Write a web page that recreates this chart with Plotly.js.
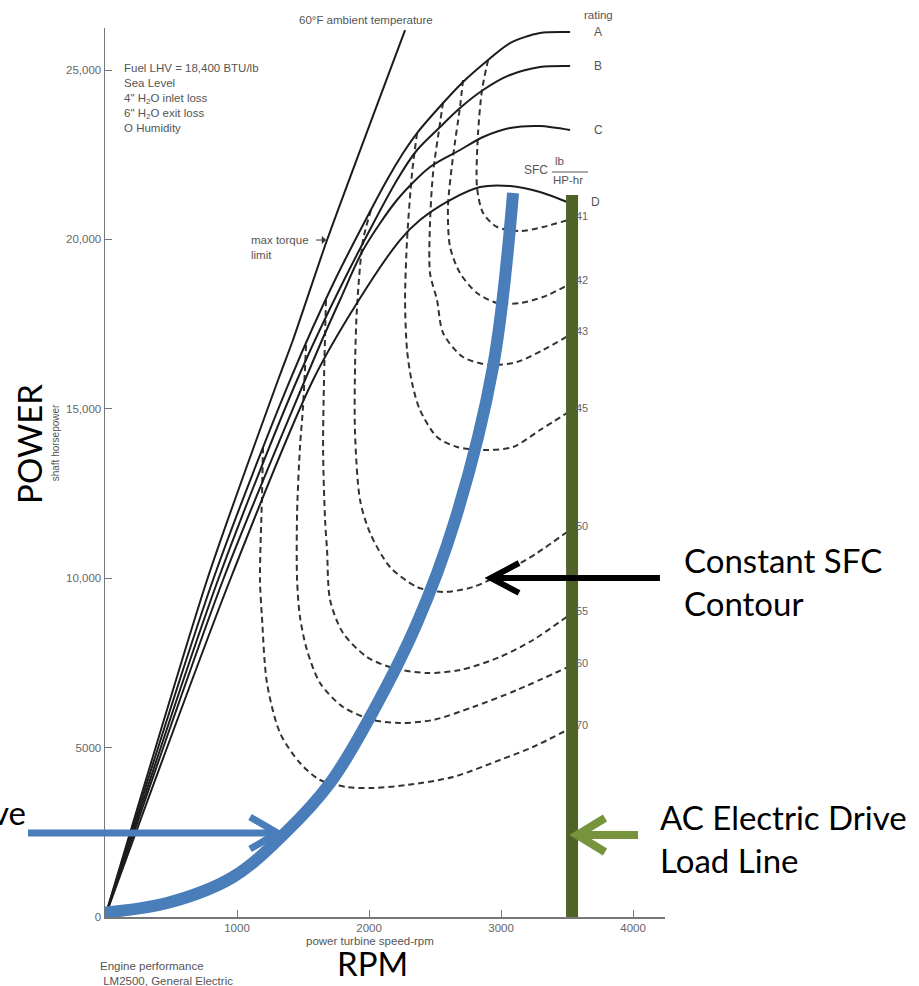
<!DOCTYPE html>
<html>
<head>
<meta charset="utf-8">
<script src="https://cdn.plot.ly/plotly-3.0.1.min.js"></script>
<style>html,body{margin:0;padding:0;background:#fff;}#chart{width:919px;height:986px;}</style>
</head>
<body>
<div id="chart"></div>
<script>
// ---- Data (power turbine speed in rpm, shaft horsepower) ----
const xTickVals = [1000, 2000, 3000, 4000];
const xTickText = ['1000', '2000', '3000', '4000'];
const yTickVals = [0, 5000, 10000, 15000, 20000, 25000];
const yTickText = ['0', '5000', '10,000', '15,000', '20,000', '25,000'];

// max torque limit / 60°F ambient temperature line
const torqueRpm = [0, 773, 1311, 1424, 1682, 2273];
const torqueHp  = [0, 9947, 15850, 17031, 19982, 26180];

// rating curves
const ratingNames = ['A', 'B', 'C', 'D'];
const ratingARpm = [0, 818, 1402, 1742, 2136, 2258, 2364, 2561, 2712, 2902, 3068, 3295, 3523];
const ratingAHp  = [0, 9947, 15850, 18802, 21753, 22550, 23140, 24026, 24646, 25295, 25797, 26092, 26121];
const ratingBRpm = [0, 856, 1455, 1811, 2212, 2364, 2538, 2689, 2864, 3068, 3295, 3523];
const ratingBHp  = [0, 9947, 15850, 18802, 21753, 22639, 23318, 23878, 24410, 24852, 25089, 25118];
const ratingCRpm = [0, 894, 1515, 1644, 1780, 1955, 2212, 2462, 2689, 2864, 3068, 3295, 3523];
const ratingCHp  = [0, 9947, 15850, 17031, 18211, 19687, 21163, 22137, 22639, 23022, 23288, 23347, 23229];
const ratingDRpm = [0, 947, 1576, 1909, 2235, 2386, 2614, 2841, 3068, 3295, 3500];
const ratingDHp  = [0, 9947, 15850, 18123, 19982, 20573, 21163, 21547, 21576, 21399, 21104];

// constant SFC contours (lb/HP-hr)
const sfcLabels = ['41', '42', '43', '45', '50', '55', '60', '70'];
const sfc41Rpm = [2902, 2856, 2826, 2818, 2864, 2970, 3144, 3318, 3530];
const sfc41Hp  = [25295, 24410, 23140, 21547, 20779, 20366, 20248, 20366, 20600];
const sfc42Rpm = [2712, 2689, 2636, 2598, 2614, 2689, 2818, 2970, 3144, 3318, 3530];
const sfc42Hp  = [24705, 23908, 22432, 20956, 19776, 19008, 18418, 18123, 18123, 18300, 18700];
const sfc43Rpm = [2561, 2538, 2485, 2462, 2462, 2515, 2561, 2712, 2917, 3121, 3318, 3530];
const sfc43Hp  = [24055, 23436, 21960, 20484, 19008, 18211, 17237, 16529, 16293, 16381, 16736, 17200];
const sfc45Rpm = [2364, 2326, 2288, 2273, 2288, 2326, 2386, 2515, 2667, 2864, 3091, 3295, 3530];
const sfc45Hp  = [23140, 21960, 19982, 18211, 16736, 15762, 14965, 14168, 13873, 13784, 13873, 14374, 14950];
const sfc50Rpm = [2015, 1955, 1909, 1894, 1894, 1932, 2008, 2159, 2364, 2561, 2788, 3015, 3273, 3530];
const sfc50Hp  = [20867, 19982, 18005, 16234, 14286, 12308, 11334, 10331, 9740, 9593, 9740, 10153, 10744, 11450];
const sfc55Rpm = [1674, 1659, 1652, 1667, 1682, 1705, 1803, 1985, 2182, 2439, 2689, 2992, 3242, 3530];
const sfc55Hp  = [18211, 15850, 13784, 11718, 10832, 9357, 8383, 7674, 7349, 7202, 7290, 7674, 8176, 8950];
const sfc60Rpm = [1523, 1500, 1477, 1455, 1455, 1477, 1530, 1629, 1803, 2030, 2235, 2485, 2788, 3121, 3530];
const sfc60Hp  = [16883, 15053, 13873, 11924, 9947, 8855, 7881, 6907, 6198, 5815, 5726, 5815, 6198, 6700, 7420];
const sfc70Rpm = [1197, 1189, 1174, 1189, 1227, 1326, 1477, 1629, 1833, 2030, 2288, 2636, 2992, 3242, 3530];
const sfc70Hp  = [13873, 12397, 9947, 8855, 6907, 5431, 4545, 4044, 3837, 3808, 3896, 4132, 4634, 5018, 5580];

// propeller load curve (blue) and AC electric drive load line (green)
const propRpm = [-38, 470, 970, 1364, 1705, 2008, 2364, 2652, 2939, 3091];
const propHp  = [118, 413, 1181, 2479, 3955, 5903, 8678, 11718, 16234, 21369];
const acRpm = [3538, 3538];
const acHp  = [0, 21310];

// ---- Build traces ----
const ratingRpm = [ratingARpm, ratingBRpm, ratingCRpm, ratingDRpm];
const ratingHp  = [ratingAHp, ratingBHp, ratingCHp, ratingDHp];
const sfcRpm = [sfc41Rpm, sfc42Rpm, sfc43Rpm, sfc45Rpm, sfc50Rpm, sfc55Rpm, sfc60Rpm, sfc70Rpm];
const sfcHp  = [sfc41Hp, sfc42Hp, sfc43Hp, sfc45Hp, sfc50Hp, sfc55Hp, sfc60Hp, sfc70Hp];

const ink = '#1c1c1c';
const scanText = '#555555';
const traces = [];
sfcLabels.forEach((lab, i) => {
  traces.push({x: sfcRpm[i], y: sfcHp[i], type: 'scatter', mode: 'lines', name: 'SFC .' + lab,
    line: {color: '#333', width: 2, dash: '6px,4px', shape: 'spline', smoothing: 0.8}, hoverinfo: 'skip'});
});
ratingNames.forEach((n, i) => {
  traces.push({x: ratingRpm[i], y: ratingHp[i], type: 'scatter', mode: 'lines', name: 'rating ' + n,
    line: {color: ink, width: 2, shape: 'spline', smoothing: 0.8}, hoverinfo: 'skip'});
});
traces.push({x: torqueRpm, y: torqueHp, type: 'scatter', mode: 'lines', name: 'max torque limit',
  line: {color: ink, width: 2, shape: 'spline', smoothing: 0.6}, hoverinfo: 'skip'});
traces.push({x: propRpm, y: propHp, type: 'scatter', mode: 'lines', name: 'propeller load curve',
  line: {color: '#4a7ebb', width: 12, shape: 'spline', smoothing: 1}, hoverinfo: 'skip'});
traces.push({x: acRpm, y: acHp, type: 'scatter', mode: 'lines', name: 'AC electric drive load line',
  line: {color: '#4f6228', width: 12}, hoverinfo: 'skip'});

// ---- Annotations ----
const small = {family: 'Liberation Sans, Arial, sans-serif', size: 11.5, color: scanText};
const big = {family: 'Lato, Carlito, sans-serif', size: 33, color: '#000'};
const ann = [];
ratingNames.forEach((n, i) => {
  const r = ratingRpm[i], h = ratingHp[i];
  ann.push({x: r[r.length - 1], y: h[h.length - 1], xref: 'x', yref: 'y', text: n, showarrow: false,
    xanchor: 'center', yanchor: 'middle', xshift: 28, font: Object.assign({}, small, {size: 12})});
});
sfcLabels.forEach((lab, i) => {
  const r = sfcRpm[i], h = sfcHp[i];
  ann.push({x: r[r.length - 1], y: h[h.length - 1], xref: 'x', yref: 'y', text: lab, showarrow: false,
    xanchor: 'left', yanchor: 'middle', xshift: 3, yshift: 3, font: Object.assign({}, small, {size: 11, color: '#666'})});
});
function paperNote(x, y, text, font, extra) {
  ann.push(Object.assign({xref: 'paper', yref: 'paper', x: x, y: y, text: text, showarrow: false,
    xanchor: 'center', yanchor: 'middle', font: font}, extra || {}));
}
paperNote(0.882, 1.0146, 'rating', small);
paperNote(0.466, 1.009, '60°F ambient temperature', small);
ann.push({xref: 'x', yref: 'y', x: 129, y: 25300, xanchor: 'left', yanchor: 'top', align: 'left', showarrow: false, font: small,
  text: 'Fuel LHV = 18,400 BTU/lb<br>Sea Level<br>4" H<sub>2</sub>O inlet loss<br>6" H<sub>2</sub>O exit loss<br>O Humidity'});
ann.push({xref: 'x', yref: 'y', x: 1091, y: 19776, xanchor: 'left', yanchor: 'middle', align: 'left', showarrow: false, font: small,
  text: 'max torque<br>limit'});
ann.push({xref: 'x', yref: 'y', x: 3265, y: 22048, text: 'SFC', showarrow: false, xanchor: 'center', yanchor: 'middle',
  font: Object.assign({}, small, {size: 12})});
ann.push({xref: 'x', yref: 'y', x: 3440, y: 22300, text: 'lb', showarrow: false, xanchor: 'center', yanchor: 'middle', font: small});
ann.push({xref: 'x', yref: 'y', x: 3510, y: 21753, text: 'HP-hr', showarrow: false, xanchor: 'center', yanchor: 'middle', font: small});
paperNote(-0.089, 0.533, 'shaft horsepower', Object.assign({}, small, {size: 10}), {textangle: -90});
paperNote(-0.136, 0.532, 'POWER', big, {textangle: -90});
paperNote(0.473, -0.0275, 'power turbine speed-rpm', small);
paperNote(0.477, -0.052, 'RPM', big);
paperNote(-0.0125, -0.0461, 'Engine performance<br> LM2500, General Electric', small, {xanchor: 'left', yanchor: 'top', align: 'left'});
paperNote(-0.1375, 0.118, 've', big, {xanchor: 'right'});
paperNote(1.030, 0.426, 'Constant SFC<br>Contour', big, {xanchor: 'left', yanchor: 'top', align: 'left'});
paperNote(0.9875, 0.137, 'AC Electric Drive<br>Load Line', big, {xanchor: 'left', yanchor: 'top', align: 'left'});

// ---- Pointer arrows (layout decoration, paper coordinates) ----
function arrowShapes(tail, tip, arm1, arm2, color, width) {
  return [
    {type: 'line', xref: 'paper', yref: 'paper', x0: tail[0], y0: tail[1], x1: tip[0], y1: tip[1], line: {color: color, width: width}},
    {type: 'path', xref: 'paper', yref: 'paper', path: 'M' + arm1[0] + ',' + arm1[1] + ' L' + tip[0] + ',' + tip[1] + ' L' + arm2[0] + ',' + arm2[1],
      line: {color: color, width: width}}
  ];
}
const shapes = [].concat(
  arrowShapes([-0.1375, 0.0945], [0.3080, 0.0945], [0.2590, 0.1125], [0.2590, 0.0765], '#4a7ebb', 7),
  arrowShapes([0.991, 0.3813], [0.6890, 0.3813], [0.7393, 0.3982], [0.7393, 0.3645], '#000', 6),
  arrowShapes([0.9518, 0.0922], [0.8430, 0.0922], [0.8929, 0.1114], [0.8929, 0.0731], '#77933c', 8),
  [{type: 'line', xref: 'paper', yref: 'paper', x0: 0.3768, x1: 0.3900, y0: 0.7615, y1: 0.7615, line: {color: '#333', width: 1}},
   {type: 'path', xref: 'paper', yref: 'paper', path: 'M0.3946,0.7615 L0.3875,0.7655 L0.3875,0.7575 Z', fillcolor: '#333', line: {color: '#333', width: 0.5}},
   {type: 'line', xref: 'paper', yref: 'paper', x0: 0.798, x1: 0.8625, y0: 0.838, y1: 0.838, line: {color: '#555', width: 1}}]
);

const axisFont = {family: 'Liberation Sans, Arial, sans-serif', size: 11.5, color: '#666'};
const layout = {
  width: 919, height: 986,
  margin: {l: 105, r: 254, t: 28, b: 69, pad: 0},
  paper_bgcolor: '#fff', plot_bgcolor: '#fff',
  showlegend: false,
  xaxis: {range: [0, 4242], tickvals: xTickVals, ticktext: xTickText, ticks: 'inside', ticklen: 7, tickcolor: '#777',
    showline: true, linecolor: '#777', linewidth: 1.5, showgrid: false, zeroline: false, tickfont: axisFont},
  yaxis: {range: [0, 26240], tickvals: yTickVals, ticktext: yTickText, ticks: 'inside', ticklen: 7, tickcolor: '#777',
    showline: true, linecolor: '#777', linewidth: 1.5, showgrid: false, zeroline: false, tickfont: axisFont},
  shapes: shapes,
  annotations: ann
};
Plotly.newPlot('chart', traces, layout, {displayModeBar: false, staticPlot: true});
</script>
</body>
</html>
